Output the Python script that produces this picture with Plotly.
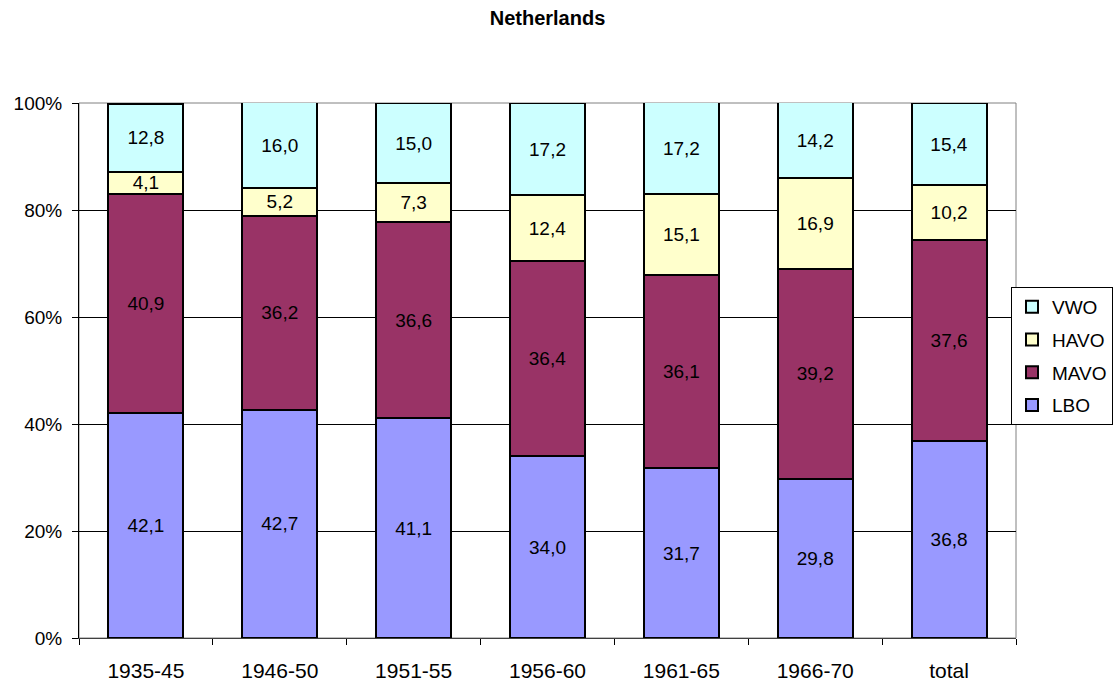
import plotly.graph_objects as go

# Birth cohorts and school-type shares (percent)
cohorts = ["1935-45", "1946-50", "1951-55", "1956-60", "1961-65", "1966-70", "total"]
lbo = [42.1, 42.7, 41.1, 34.0, 31.7, 29.8, 36.8]
mavo = [40.9, 36.2, 36.6, 36.4, 36.1, 39.2, 37.6]
havo = [4.1, 5.2, 7.3, 12.4, 15.1, 16.9, 10.2]
vwo = [12.8, 16.0, 15.0, 17.2, 17.2, 14.2, 15.4]

y_ticks = [0, 20, 40, 60, 80, 100]
y_tick_labels = ["0%", "20%", "40%", "60%", "80%", "100%"]

# stacked bottom to top; legend lists them top to bottom
series = [
    ("LBO", lbo, "#9999FF"),
    ("MAVO", mavo, "#993366"),
    ("HAVO", havo, "#FFFFCC"),
    ("VWO", vwo, "#CCFFFF"),
]

FONT = "Arial, Liberation Sans, sans-serif"

def fmt(v):
    return f"{v:.1f}".replace(".", ",")

fig = go.Figure()
for i, (name, vals, color) in enumerate(series):
    fig.add_trace(go.Bar(
        name=name,
        x=cohorts,
        y=vals,
        legendgroup=name,
        legendrank=1000 - i,
        marker=dict(color=color, line=dict(color="black", width=2)),
        text=[fmt(v) for v in vals],
        textposition="inside",
        insidetextanchor="middle",
        textangle=0,
        constraintext="none",
        textfont=dict(family=FONT, size=19, color="black"),
        hoverinfo="skip",
    ))

fig.update_layout(
    width=1116,
    height=686,
    barmode="stack",
    bargap=0.44,
    paper_bgcolor="white",
    plot_bgcolor="white",
    margin=dict(l=79, r=100, t=103, b=48, autoexpand=False),
    font=dict(family=FONT, size=19, color="black"),
    title=dict(
        text="<b>Netherlands</b>",
        x=0.5, xref="paper", xanchor="center",
        y=1 - 18 / 686, yanchor="middle",
        font=dict(size=20, color="black"),
    ),
    legend=dict(
        x=(1113 - 79) / 937, xanchor="right",
        y=(638 - 287) / 535, yanchor="top",
        bordercolor="black",
        borderwidth=1,
        bgcolor="white",
        traceorder="grouped",
        tracegroupgap=5,
        itemwidth=30,
        font=dict(size=19),
    ),
    shapes=[dict(
        type="rect", xref="paper", yref="paper",
        x0=0, x1=1, y0=0, y1=1,
        line=dict(color="#808080", width=1),
        layer="below",
    )],
)

fig.update_xaxes(
    type="category",
    tickson="boundaries",
    ticks="outside",
    ticklen=6,
    tickcolor="black",
    showline=True,
    linecolor="#404040",
    linewidth=1,
    showgrid=False,
    automargin=False,
    ticklabelstandoff=14,
    tickfont=dict(size=21),
)

fig.update_yaxes(
    range=[0, 100],
    tickvals=y_ticks,
    ticktext=y_tick_labels,
    ticks="outside",
    ticklen=6,
    tickcolor="black",
    showline=True,
    linecolor="black",
    linewidth=1,
    showgrid=True,
    gridcolor="black",
    gridwidth=1,
    zeroline=False,
    automargin=False,
    ticklabelstandoff=6,
    tickfont=dict(size=19),
)

fig.write_html("out.html")
